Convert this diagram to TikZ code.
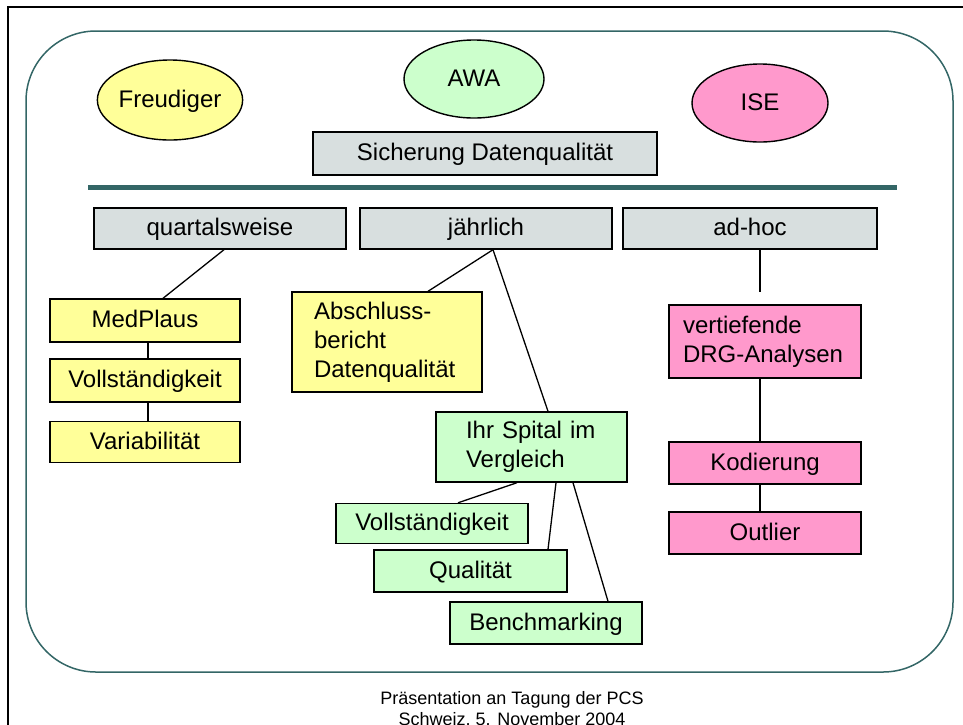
\documentclass[tikz,border=0pt]{standalone}
\usepackage{fontspec}
\setmainfont{Liberation Sans}
\usetikzlibrary{shapes.geometric,calc}
\definecolor{gelb}{HTML}{FFFF99}
\definecolor{gruen}{HTML}{CCFFCC}
\definecolor{rosa}{HTML}{FF99CC}
\definecolor{grau}{HTML}{D8DFDF}
\definecolor{petrol}{HTML}{336666}
\tikzset{
	schrift/.style={font=\fontsize{24}{29}\selectfont},
	einzeilig/.style={text height=17pt,text depth=3pt},
	kasten/.style={draw,line width=1.4pt,inner sep=0pt,schrift},
	oval/.style={ellipse,draw,line width=1.4pt,inner sep=0pt,schrift,einzeilig},
	verbindung/.style={line width=1.3pt},
}
\begin{document}
\begin{tikzpicture}[x=1pt,y=-1pt]
	\useasboundingbox (0,0) rectangle (963,724);
	\clip (0,0) rectangle (963,724);
	\draw [line width=1.5pt] (8,7) rectangle (980,740);
	\draw [petrol,line width=1.5pt,rounded corners=70pt] (26,31) rectangle (953,672);
	\fill [petrol] (88,185) rectangle (897,190);
	\node [oval,fill=gelb,minimum width=136pt,minimum height=80pt] (freudiger) at (170,100) {Freudiger};
	\node [oval,fill=gruen,minimum width=140pt,minimum height=78pt] (awa) at (474,79) {AWA};
	\node [oval,fill=rosa,minimum width=136pt,minimum height=78pt] (ise) at (760,103) {ISE};
	\node [kasten,einzeilig,fill=grau,minimum width=344pt,minimum height=43pt] (sicherung) at (485,153.5) {Sicherung Datenqualität};
	\node [kasten,einzeilig,fill=grau,minimum width=252pt,minimum height=41pt] (quartal) at (220,228.5) {quartalsweise};
	\node [kasten,einzeilig,fill=grau,minimum width=252pt,minimum height=41pt] (jahr) at (486,228.5) {jährlich};
	\node [kasten,einzeilig,fill=grau,minimum width=254pt,minimum height=41pt] (adhoc) at (750,228.5) {ad-hoc};
	\node [kasten,einzeilig,fill=gelb,minimum width=190pt,minimum height=43pt] (medplaus) at (145,320.5) {MedPlaus};
	\node [kasten,einzeilig,fill=gelb,minimum width=190pt,minimum height=43pt] (vollq) at (145,380.5) {Vollständigkeit};
	\node [kasten,einzeilig,fill=gelb,minimum width=190pt,minimum height=41pt] (variab) at (145,442) {Variabilität};
	\node [kasten,fill=gelb,align=left,inner xsep=22pt,text width=146pt,minimum height=100pt] (abschluss) at (387,342) {Abschluss-\\bericht\\Datenqualität};
	\node [kasten,fill=gruen,align=left,inner xsep=30pt,text width=131pt,minimum height=70pt] (spital) at (531.5,447) {Ihr Spital im\\Vergleich};
	\node [kasten,einzeilig,fill=gruen,minimum width=192pt,minimum height=40pt] (vollj) at (432,523.5) {Vollständigkeit};
	\node [kasten,einzeilig,fill=gruen,minimum width=193pt,minimum height=42pt] (qualitaet) at (470.5,571) {Qualität};
	\node [kasten,einzeilig,fill=gruen,minimum width=192pt,minimum height=42pt] (bench) at (546,623) {Benchmarking};
	\node [kasten,fill=rosa,align=left,inner xsep=14pt,text width=164pt,minimum height=73pt] (drg) at (765,341.5) {vertiefende\\DRG-Analysen};
	\node [kasten,einzeilig,fill=rosa,minimum width=192pt,minimum height=42pt] (kodierung) at (765,463) {Kodierung};
	\node [kasten,einzeilig,fill=rosa,minimum width=192pt,minimum height=42pt] (outlier) at (765,533) {Outlier};
	\coordinate (adende) at (760,292);
	\draw [verbindung] ($(quartal.south)+(4,0)$) -- ($(medplaus.north)+(18,0)$);
	\draw [verbindung] ($(medplaus.south)+(3,0)$) -- ($(vollq.north)+(3,0)$);
	\draw [verbindung] ($(vollq.south)+(3,0)$) -- ($(variab.north)+(3,0)$);
	\draw [verbindung] ($(jahr.south)+(7,0)$) -- ($(abschluss.north)+(41,0)$);
	\draw [verbindung] ($(jahr.south)+(7,0)$) -- ($(spital.north)+(16.5,0)$);
	\draw [verbindung] ($(spital.south)+(-14.5,0)$) -- ($(vollj.north)+(26,0)$);
	\draw [verbindung] ($(spital.south)+(24.5,0)$) -- ($(qualitaet.north)+(77.5,0)$);
	\draw [verbindung] ($(spital.south)+(41.5,0)$) -- ($(bench.north)+(62,0)$);
	\draw [verbindung] (adhoc.south -| adende) -- (adende);
	\draw [verbindung] (drg.south -| adende) -- (kodierung.north -| adende);
	\draw [verbindung] (kodierung.south -| adende) -- (outlier.north -| adende);
	\node [inner sep=0pt,anchor=north,align=center,font=\fontsize{18}{21}\selectfont] (fuss) at (512,691) {Präsentation an Tagung der PCS\\Schweiz, 5. November 2004};
\end{tikzpicture}
\end{document}
